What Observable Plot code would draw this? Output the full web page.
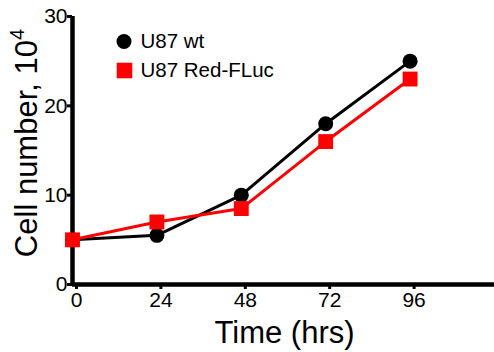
<!DOCTYPE html>
<html>
<head>
<meta charset="utf-8">
<script src="https://cdn.jsdelivr.net/npm/d3@7"></script>
<script src="https://cdn.jsdelivr.net/npm/@observablehq/plot@0.6"></script>
<style>
  html, body { margin: 0; padding: 0; background: #fff; }
  #chart { position: relative; width: 494px; height: 352px; }
</style>
</head>
<body>
<div id="chart"></div>
<script>
const times = [0, 24, 48, 72, 96];
const wtValues = [5, 5.5, 10, 18, 25];
const redValues = [5, 7, 8.5, 16, 23];
const seriesNames = ["U87 wt", "U87 Red-FLuc"];
const seriesColors = ["#000000", "#ff0000"];
const xTicks = [0, 24, 48, 72, 96];
const yTicks = [0, 10, 20, 30];
const xTitle = "Time (hrs)";
const yTitleMain = "Cell number, 10";
const yTitleSup = "4";

const wt = times.map((t, i) => ({t, v: wtValues[i]}));
const red = times.map((t, i) => ({t, v: redValues[i]}));

const font = "'Liberation Sans', Arial, sans-serif";

const svg = Plot.plot({
  width: 494,
  height: 352,
  marginLeft: 72,
  marginRight: 0,
  marginTop: 16,
  marginBottom: 68,
  style: {fontFamily: font, fontSize: "21px", color: "#000", background: "#fff"},
  x: {domain: [0, 120]},
  y: {domain: [0, 30]},
  marks: [
    Plot.axisX({ticks: xTicks, tickSize: 5, strokeWidth: 3, tickPadding: 3, fontSize: 21, label: null, dx: 4}),
    Plot.axisY({ticks: yTicks, tickSize: 5, strokeWidth: 3, tickPadding: 0, fontSize: 21, label: null}),
    Plot.ruleY([0], {strokeWidth: 4.5}),
    Plot.ruleX([0], {y1: 0, y2: 30, strokeWidth: 4.5}),
    Plot.line(wt, {x: "t", y: "v", stroke: seriesColors[0], strokeWidth: 3}),
    Plot.dot(wt, {x: "t", y: "v", r: 7.5, fill: seriesColors[0], stroke: null}),
    Plot.line(red, {x: "t", y: "v", stroke: seriesColors[1], strokeWidth: 3}),
    Plot.dot(red, {x: "t", y: "v", symbol: "square", r: 8.4, fill: seriesColors[1], stroke: null}),
    // legend
    Plot.dot([seriesNames[0]], {frameAnchor: "top-left", dx: 51.5, dy: 25, r: 7.5, fill: seriesColors[0], stroke: null}),
    Plot.text([seriesNames[0]], {text: d => d, frameAnchor: "top-left", dx: 68, dy: 25, textAnchor: "start", lineAnchor: "middle", fontSize: 20.5, fill: "#000"}),
    Plot.dot([seriesNames[1]], {frameAnchor: "top-left", dx: 52, dy: 54, symbol: "square", r: 8.8, fill: seriesColors[1], stroke: null}),
    Plot.text([seriesNames[1]], {text: d => d, frameAnchor: "top-left", dx: 68, dy: 54, textAnchor: "start", lineAnchor: "middle", fontSize: 20.5, fill: "#000"}),
    // x title
    Plot.text([xTitle], {text: d => d, frameAnchor: "bottom", dx: 1, dy: 58, fontSize: 31, lineAnchor: "bottom", fill: "#000"})
  ]
});

// y title with superscript
const s = d3.select(svg);
const yt = s.append("text")
  .attr("transform", "translate(37,143) rotate(-90)")
  .attr("text-anchor", "middle")
  .attr("font-family", font)
  .attr("font-size", 31)
  .attr("fill", "#000");
yt.append("tspan").text(yTitleMain);
yt.append("tspan").attr("font-size", 20).attr("dy", -13).text(yTitleSup);

document.getElementById("chart").appendChild(svg);
</script>
</body>
</html>
